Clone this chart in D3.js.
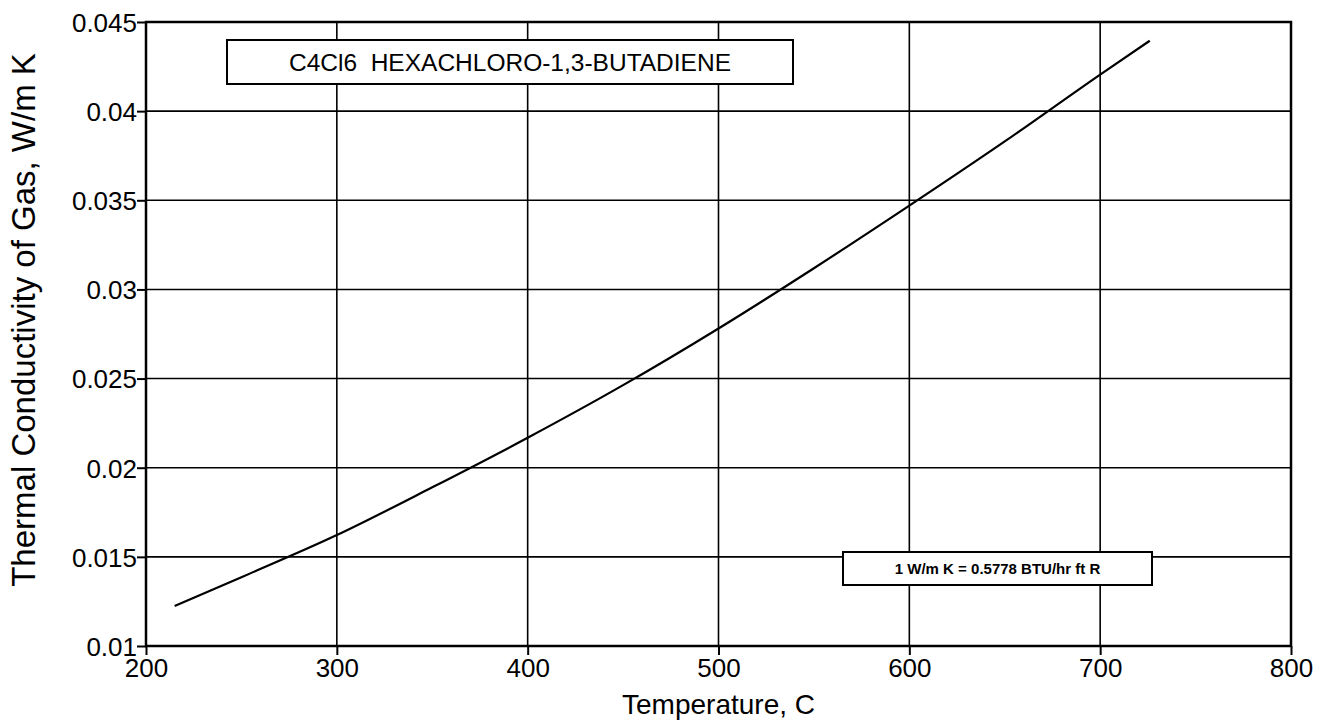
<!DOCTYPE html>
<html>
<head>
<meta charset="utf-8">
<script src="https://cdn.jsdelivr.net/npm/d3@7"></script>
<style>
  html, body { margin: 0; padding: 0; background: #fff; }
  svg { display: block; }
  text { font-family: "Liberation Sans", Arial, Helvetica, sans-serif; fill: #000; }
</style>
</head>
<body>
<svg id="chart" width="1320" height="720"></svg>
<script>
// ---- data ----
const temperatureC = [215, 250, 300, 350, 400, 450, 500, 550, 600, 650, 700, 726];
const conductivity = [0.01225, 0.01386, 0.01622, 0.0189, 0.02168, 0.02463, 0.02781, 0.03119, 0.0347, 0.0383, 0.04205, 0.04395];
const xTicks = [200, 300, 400, 500, 600, 700, 800];
const yTicks = [0.01, 0.015, 0.02, 0.025, 0.03, 0.035, 0.04, 0.045];
const xTitle = "Temperature, C";
const yTitle = "Thermal Conductivity of Gas, W/m K";
const chartTitle = "C4Cl6  HEXACHLORO-1,3-BUTADIENE";
const unitNote = "1 W/m K = 0.5778 BTU/hr ft R";

// ---- layout ----
const L = 146, R = 1291, T = 22, B = 646;
const svg = d3.select("#chart");
const x = d3.scaleLinear().domain([200, 800]).range([L, R]);
const y = d3.scaleLinear().domain([0.01, 0.045]).range([B, T]);
const fmt = v => String(+v.toFixed(3));

// gridlines
svg.append("g").selectAll("line").data(xTicks).join("line")
  .attr("x1", d => x(d)).attr("x2", d => x(d)).attr("y1", T).attr("y2", B)
  .attr("stroke", "#000").attr("stroke-width", 1.6);
svg.append("g").selectAll("line").data(yTicks).join("line")
  .attr("x1", L).attr("x2", R).attr("y1", d => y(d)).attr("y2", d => y(d))
  .attr("stroke", "#000").attr("stroke-width", 1.6);

// axes
const xAxis = d3.axisBottom(x).tickValues(xTicks).tickFormat(d => d).tickSize(9).tickSizeOuter(0);
const yAxis = d3.axisLeft(y).tickValues(yTicks).tickFormat(fmt).tickSize(9).tickSizeOuter(0);
const gx = svg.append("g").attr("transform", `translate(0,${B})`).call(xAxis);
const gy = svg.append("g").attr("transform", `translate(${L},0)`).call(yAxis);
[gx, gy].forEach(g => {
  g.select(".domain").remove();
  g.selectAll(".tick line").attr("stroke", "#000").attr("stroke-width", 2);
  g.selectAll(".tick text").attr("font-size", 26).attr("font-family", "Liberation Sans, Arial, sans-serif").attr("fill", "#000");
});
gx.selectAll(".tick text").attr("dy", null).attr("y", 31);
gy.selectAll(".tick text").attr("x", -9).attr("dy", "0.36em");

// frame
svg.append("rect").attr("x", L).attr("y", T).attr("width", R - L).attr("height", B - T)
  .attr("fill", "none").attr("stroke", "#000").attr("stroke-width", 2.5);

// curve
const pts = temperatureC.map((t, i) => [t, conductivity[i]]);
svg.append("path").datum(pts)
  .attr("d", d3.line().x(d => x(d[0])).y(d => y(d[1])).curve(d3.curveMonotoneX))
  .attr("fill", "none").attr("stroke", "#000").attr("stroke-width", 2.2);

// title box
const tb = svg.append("g");
tb.append("rect").attr("x", 227).attr("y", 40).attr("width", 566).attr("height", 44)
  .attr("fill", "#fff").attr("stroke", "#000").attr("stroke-width", 2);
tb.append("text").attr("x", 510).attr("y", 71).attr("text-anchor", "middle")
  .attr("font-size", 24.5).style("white-space", "pre").text(chartTitle);

// unit box
const ub = svg.append("g");
ub.append("rect").attr("x", 843).attr("y", 552).attr("width", 309).attr("height", 33)
  .attr("fill", "#fff").attr("stroke", "#000").attr("stroke-width", 2);
ub.append("text").attr("x", 997.5).attr("y", 574).attr("text-anchor", "middle")
  .attr("font-size", 15).attr("font-weight", "bold").text(unitNote);

// axis titles
svg.append("text").attr("x", (L + R) / 2).attr("y", 714).attr("text-anchor", "middle")
  .attr("font-size", 28).text(xTitle);
svg.append("text").attr("transform", `translate(35,320) rotate(-90)`)
  .attr("text-anchor", "middle").attr("font-size", 33).text(yTitle);
</script>
</body>
</html>
